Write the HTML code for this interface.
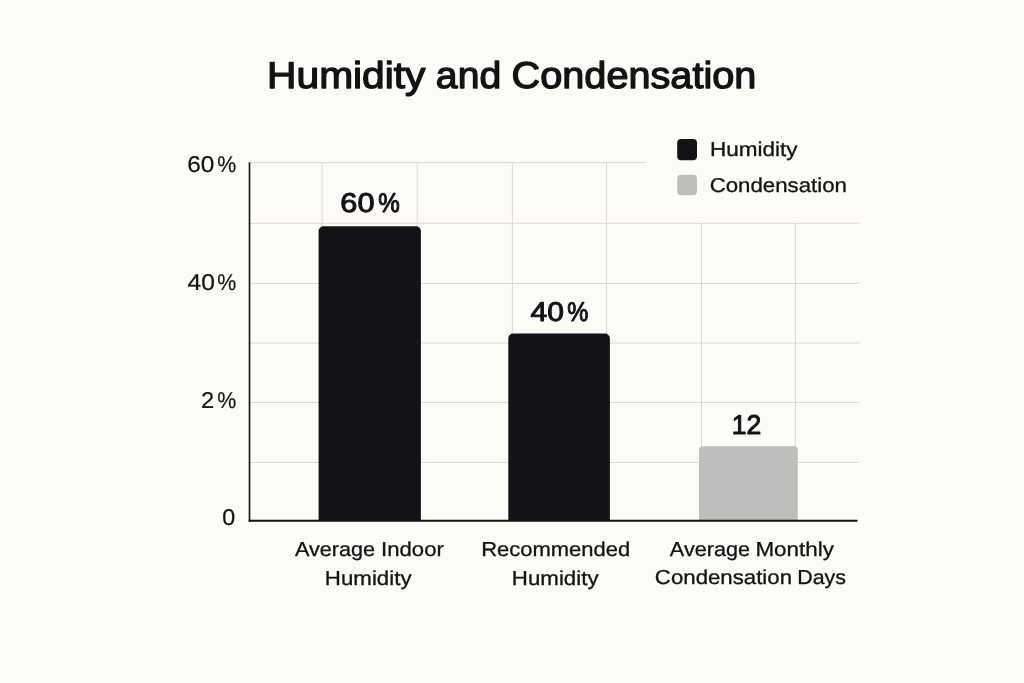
<!DOCTYPE html>
<html lang="en">
<head>
<meta charset="utf-8">
<title>Humidity and Condensation</title>
<style>
html,body{margin:0;padding:0;background:#fcfbf7;}
body{width:1024px;height:683px;overflow:hidden;position:relative;font-family:"Liberation Sans",Arial,sans-serif;}
svg{position:absolute;left:0;top:0;display:block;}
text{font-family:"Liberation Sans",Arial,sans-serif;fill:#121315;stroke:#121315;stroke-linejoin:round;white-space:pre;text-rendering:geometricPrecision;}
.title{font-size:37.4px;stroke-width:1.3px;}
.tick{font-size:22.8px;stroke-width:0.2px;}
.val{font-size:27.1px;stroke-width:1.0px;}
.cat{font-size:20.2px;stroke-width:0.3px;}
.leg{font-size:20px;stroke-width:0.3px;}
</style>
</head>
<body>
<svg width="1024" height="683" viewBox="0 0 1024 683">
<rect x="0" y="0" width="1024" height="683" fill="#fcfbf7"/>
<g stroke="#dbd9d5" stroke-width="1" fill="none">
<line x1="250" y1="162.6" x2="646" y2="162.6"/>
<line x1="250" y1="223.3" x2="859.5" y2="223.3"/>
<line x1="250" y1="283.5" x2="859.5" y2="283.5"/>
<line x1="250" y1="343" x2="859.5" y2="343"/>
<line x1="250" y1="402.5" x2="859.5" y2="402.5"/>
<line x1="250" y1="462.5" x2="859.5" y2="462.5"/>
<line x1="322" y1="162.6" x2="322" y2="520"/>
<line x1="417.2" y1="162.6" x2="417.2" y2="520"/>
<line x1="512.4" y1="162.6" x2="512.4" y2="520"/>
<line x1="606.5" y1="162.6" x2="606.5" y2="520"/>
<line x1="701.5" y1="223.3" x2="701.5" y2="520"/>
<line x1="795.4" y1="223.3" x2="795.4" y2="520"/>
</g>
<path d="M318.6 521V231.200a5 5 0 0 1 5-5h92.300a5 5 0 0 1 5 5V521Z" fill="#111316"/>
<path d="M508.3 521V338.600a5 5 0 0 1 5-5h91.600a5 5 0 0 1 5 5V521Z" fill="#111316"/>
<path d="M699 521V450.200a4 4 0 0 1 4-4h90.800a4 4 0 0 1 4 4V521Z" fill="#bebfbd"/>
<line x1="249.5" y1="162.3" x2="249.5" y2="521.7" stroke="#121315" stroke-width="1.6"/>
<line x1="248.7" y1="520.700" x2="857.5" y2="520.700" stroke="#121315" stroke-width="2"/>
<rect x="677.2" y="139" width="19.800" height="21.200" rx="4" fill="#111316"/>
<rect x="677.2" y="174.800" width="19.800" height="20.400" rx="4" fill="#bebfbd"/>
<text class="title" y="88"><tspan x="267.11" textLength="158.32" lengthAdjust="spacingAndGlyphs">Humidity</tspan> <tspan x="435.88" textLength="65.3" lengthAdjust="spacingAndGlyphs">and</tspan> <tspan x="511.55" textLength="244.83" lengthAdjust="spacingAndGlyphs">Condensation</tspan></text>
<text class="tick" y="172"><tspan x="187.18" textLength="27.13" lengthAdjust="spacingAndGlyphs">60</tspan> <tspan x="217.26" textLength="19.03" lengthAdjust="spacingAndGlyphs">%</tspan></text>
<text class="tick" y="290"><tspan x="187.47" textLength="27.33" lengthAdjust="spacingAndGlyphs">40</tspan> <tspan x="217.26" textLength="19.03" lengthAdjust="spacingAndGlyphs">%</tspan></text>
<text class="tick" y="408"><tspan x="201.12" textLength="13.2" lengthAdjust="spacingAndGlyphs">2</tspan> <tspan x="217.26" textLength="19.03" lengthAdjust="spacingAndGlyphs">%</tspan></text>
<text class="tick" y="525"><tspan x="222.28" textLength="12.96" lengthAdjust="spacingAndGlyphs">0</tspan></text>
<text class="val" y="212"><tspan x="340.36" textLength="34.13" lengthAdjust="spacingAndGlyphs">60</tspan> <tspan x="378.15" textLength="21.51" lengthAdjust="spacingAndGlyphs">%</tspan></text>
<text class="val" y="321"><tspan x="530.46" textLength="33.36" lengthAdjust="spacingAndGlyphs">40</tspan> <tspan x="567.29" textLength="21.07" lengthAdjust="spacingAndGlyphs">%</tspan></text>
<text class="val" y="434"><tspan x="731.75" textLength="29.52" lengthAdjust="spacingAndGlyphs">12</tspan></text>
<text class="cat" y="556"><tspan x="294.96" textLength="80.06" lengthAdjust="spacingAndGlyphs">Average</tspan> <tspan x="381.09" textLength="62.74" lengthAdjust="spacingAndGlyphs">Indoor</tspan></text>
<text class="cat" y="585"><tspan x="324.89" textLength="86.68" lengthAdjust="spacingAndGlyphs">Humidity</tspan></text>
<text class="cat" y="556"><tspan x="481.21" textLength="148.93" lengthAdjust="spacingAndGlyphs">Recommended</tspan></text>
<text class="cat" y="585"><tspan x="511.89" textLength="86.68" lengthAdjust="spacingAndGlyphs">Humidity</tspan></text>
<text class="cat" y="556"><tspan x="669.89" textLength="80.08" lengthAdjust="spacingAndGlyphs">Average</tspan> <tspan x="755.44" textLength="78.45" lengthAdjust="spacingAndGlyphs">Monthly</tspan></text>
<text class="cat" y="584"><tspan x="654.89" textLength="137.14" lengthAdjust="spacingAndGlyphs">Condensation</tspan> <tspan x="797.22" textLength="48.83" lengthAdjust="spacingAndGlyphs">Days</tspan></text>
<text class="leg" y="156"><tspan x="710.04" textLength="87.6" lengthAdjust="spacingAndGlyphs">Humidity</tspan></text>
<text class="leg" y="192"><tspan x="709.67" textLength="137.35" lengthAdjust="spacingAndGlyphs">Condensation</tspan></text>
</svg>
</body>
</html>
